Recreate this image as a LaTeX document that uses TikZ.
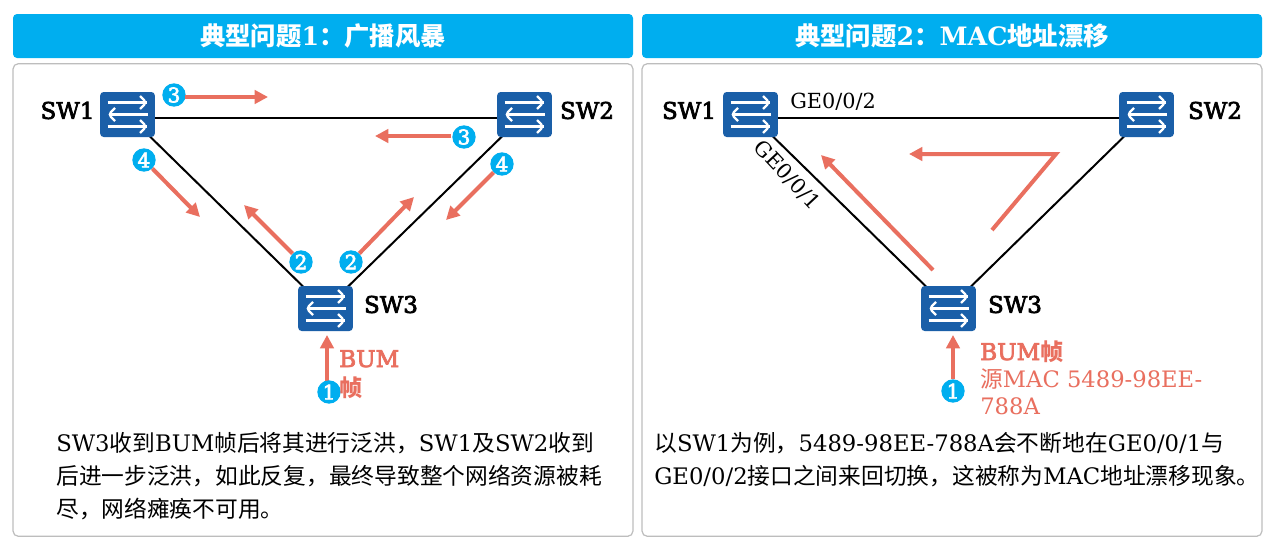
\documentclass[tikz,border=0pt]{standalone}
\usepackage{fontspec}
\setmainfont{DejaVu Serif}
\newfontfamily\cjk{Noto Sans CJK SC}
\newfontfamily\fauxb[FakeBold=3.2]{DejaVu Serif}
\newcommand{\zh}[1]{{\cjk #1}}
\newcommand{\zhb}[1]{{\cjk\bfseries #1}}
\usetikzlibrary{arrows.meta,calc}
\definecolor{barblue}{HTML}{00AEEF}
\definecolor{swblue}{HTML}{1A5FA8}
\definecolor{redarrow}{HTML}{E96F5F}
\definecolor{panelgray}{HTML}{BDBDBD}
\tikzset{
  titlebar/.style={fill=barblue,rounded corners=3pt,minimum width=465pt,minimum height=33pt,inner sep=0pt,text=white,font=\fontsize{19}{22}\selectfont\bfseries},
  panelbox/.style={draw=panelgray,line width=0.9pt,fill=white,rounded corners=4pt,minimum width=465pt,minimum height=354.5pt,inner sep=0pt},
  iconline/.style={draw=white,line width=1.8pt},
  swnode/.style={fill=swblue,rounded corners=2.6pt,minimum width=41pt,minimum height=33.75pt,inner sep=0pt,
    path picture={
      \begin{scope}[shift={(path picture bounding box.center)}]
        \draw[iconline] (-20,-12) -- (19,-12);
        \draw[iconline] (12.5,-18.5) -- (19,-12) -- (12.5,-5.5);
        \draw[iconline] (20,0) -- (-19,0);
        \draw[iconline] (-12.5,-6.5) -- (-19,0) -- (-12.5,6.5);
        \draw[iconline] (-20,12) -- (19,12);
        \draw[iconline] (12.5,5.5) -- (19,12) -- (12.5,18.5);
      \end{scope}}},
  swlabel/.style={font=\fontsize{17.2}{20}\fauxb,inner sep=0pt},
  link/.style={draw=black,line width=1.5pt},
  flow/.style={draw=redarrow,line width=3pt,-{Triangle[length=10pt,width=10pt]}},
  stepdot/.style={circle,fill=barblue,text=white,minimum size=17.5pt,inner sep=0pt,font=\fontsize{15}{16}\fauxb},
  bodytext/.style={anchor=base west,inner sep=0pt,font=\fontsize{17.05}{20}\selectfont},
  portlabel/.style={inner sep=0pt,font=\fontsize{15.6}{18}\selectfont},
  bumlabel/.style={anchor=base west,inner sep=0pt,text=redarrow,font=\fontsize{17}{20}\selectfont},
  bumbold/.style={bumlabel,font=\fontsize{17.3}{20}\fauxb},
}
\begin{document}
\begin{tikzpicture}[x=0.75pt,y=-0.75pt]
\useasboundingbox (0,0) rectangle (1271,539);
% title bars and panels
\node[titlebar] (T1) at (323,36) {\zh{典型问题}1\zh{：广播风暴}};
\node[titlebar] (T2) at (952,36) {\zh{典型问题}2\zh{：}MAC\zh{地址漂移}};
\node[panelbox] (P1) at (323,300) {};
\node[panelbox] (P2) at (952,300) {};
% left: switches
\coordinate (A1) at (127.5,114.5);
\coordinate (A2) at (524.5,114.5);
\coordinate (A3) at (325.5,308.5);
\draw[link] ($(A1)+(0,3)$) -- ($(A2)+(0,3)$);
\draw[link] (A1) -- (A3);
\draw[link] (A2) -- (A3);
\node[swnode] (L1) at (A1) {};
\node[swnode] (L2) at (A2) {};
\node[swnode] (L3) at (A3) {};
\node[swlabel] (L1t) at (67.5,110.5) {SW1};
\node[swlabel] (L2t) at (587,110.5) {SW2};
\node[swlabel] (L3t) at (391,304.5) {SW3};
% left: flows
\coordinate (e3a) at (268,97);
\coordinate (e3b) at (375,136);
\coordinate (e4a) at (200,217);
\coordinate (e4b) at (446,220);
\coordinate (e2a) at (244,205);
\coordinate (e2b) at (414,197);
\coordinate (e1) at (327,335);
\node[stepdot] (s3a) at (174,95) {3};
\node[stepdot] (s3b) at (464,137) {3};
\node[stepdot] (s4a) at (144,160) {4};
\node[stepdot] (s4b) at (502,164) {4};
\node[stepdot] (s2a) at (301,262) {2};
\node[stepdot] (s2b) at (351,262) {2};
\draw[flow] (s3a) ++(11,2) -- (e3a);
\draw[flow] (s3b) ++(-13,-1) -- (e3b);
\draw[flow] (s4a) -- (e4a);
\draw[flow] (s4b) -- (e4b);
\draw[flow] (s2a) -- (e2a);
\draw[flow] (s2b) -- (e2b);
\draw[flow] (327,392) -- (e1);
\node[stepdot] (s1) at (329,392) {1};
\node[bumbold] (bl1) at (339,367) {BUM};
\node[bumbold] (bl2) at (339,396) {\zhb{帧}};
\node[bodytext] (tl1) at (56,451) {SW3\zh{收到}BUM\zh{帧后将其进行泛洪，}SW1\zh{及}SW2\zh{收到}};
\node[bodytext] (tl2) at (56,484) {\zh{后进一步泛洪，如此反复，最终导致整个网络资源被耗}};
\node[bodytext] (tl3) at (56,517) {\zh{尽，网络瘫痪不可用。}};
% right: switches
\coordinate (B1) at (750.5,114.5);
\coordinate (B2) at (1146.5,114.5);
\coordinate (B3) at (948.5,308.5);
\draw[link] ($(B1)+(0,3)$) -- ($(B2)+(0,3)$);
\draw[link] (B1) -- (B3);
\draw[link] (B2) -- (B3);
\node[swnode] (R1) at (B1) {};
\node[swnode] (R2) at (B2) {};
\node[swnode] (R3) at (B3) {};
\node[swlabel] (R1t) at (689,110.5) {SW1};
\node[swlabel] (R2t) at (1215,110.5) {SW2};
\node[swlabel] (R3t) at (1015,304.5) {SW3};
\node[portlabel] (p2) at (833,102) {GE0/0/2};
\node[portlabel,rotate=-47] (p1) at (787,175) {GE0/0/1};
% right: flows
\coordinate (f1s) at (933,270);
\coordinate (f1e) at (821,155);
\coordinate (f2s) at (992,230);
\coordinate (f2m) at (1056,154);
\coordinate (f2e) at (909,154);
\coordinate (f3e) at (953,335);
\draw[flow] (f1s) -- (f1e);
\draw[flow,miter limit=10] (f2s) -- (f2m) -- (f2e);
\node[stepdot] (r1) at (953,391) {1};
\draw[flow] (r1) -- (f3e);
\node[bumbold] (br1) at (980,360) {BUM\zhb{帧}};
\node[bumlabel] (br2) at (980,387) {\zh{源}MAC 5489-98EE-};
\node[bumlabel] (br3) at (980,414) {788A};
\node[bodytext] (tr1) at (654,451) {\zh{以}SW1\zh{为例，}5489-98EE-788A\zh{会不断地在}GE0/0/1\zh{与}};
\node[bodytext] (tr2) at (654,484) {GE0/0/2\zh{接口之间来回切换，这被称为}MAC\zh{地址漂移现象。}};
\end{tikzpicture}
\end{document}
